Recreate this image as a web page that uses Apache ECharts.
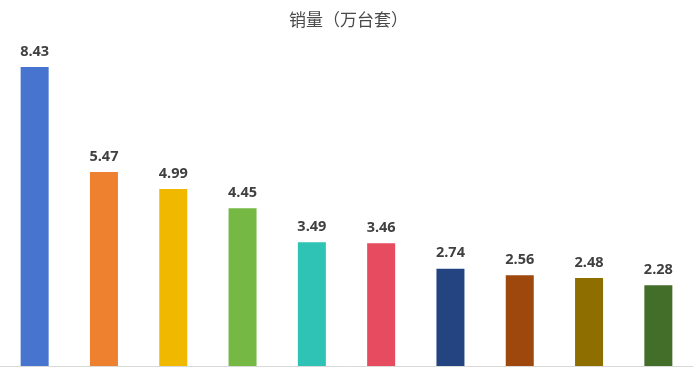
<!DOCTYPE html>
<html><head><meta charset="utf-8">
<script src="https://cdn.jsdelivr.net/npm/echarts@6/dist/echarts.min.js"></script>
<style>html,body{margin:0;padding:0;background:#fff}#c{width:697px;height:371px}</style>
</head><body><div id="c"></div>
<script>
const categories = ['A','B','C','D','E','F','G','H','I','J'];
const values = [8.43, 5.47, 4.99, 4.45, 3.49, 3.46, 2.74, 2.56, 2.48, 2.28];
const colors = ['#4674CE','#EE8130','#F1B800','#75B843','#2EC3B4','#E64B5F','#234481','#9E480E','#8F6E00','#436E2A'];
const chart = echarts.init(document.getElementById('c'));
chart.setOption({
  animation: false,
  title: {
    text: '销量（万台套）', left: 'center', top: 6,
    textStyle: {fontFamily: 'Noto Sans CJK SC', fontSize: 17, fontWeight: 'normal', color: '#4a4a4a'}
  },
  grid: {left: -3, right: 4, top: 11.3, bottom: 5, containLabel: false},
  xAxis: {
    type: 'category', data: categories,
    axisLine: {lineStyle: {color: '#D9D9D9', width: 1}},
    axisTick: {show: false}, axisLabel: {show: false}
  },
  yAxis: {type: 'value', min: 0, max: 10, show: false, splitLine: {show: false}},
  series: [{
    type: 'bar', barWidth: 28,
    data: values.map((v, i) => ({value: v, itemStyle: {color: colors[i]}})),
    label: {
      show: true, position: 'top', distance: 8,
      fontFamily: 'Open Sans', fontWeight: 'bold', fontSize: 14.5, color: '#404040',
      formatter: p => p.value.toFixed(2)
    }
  }]
});
</script></body></html>
